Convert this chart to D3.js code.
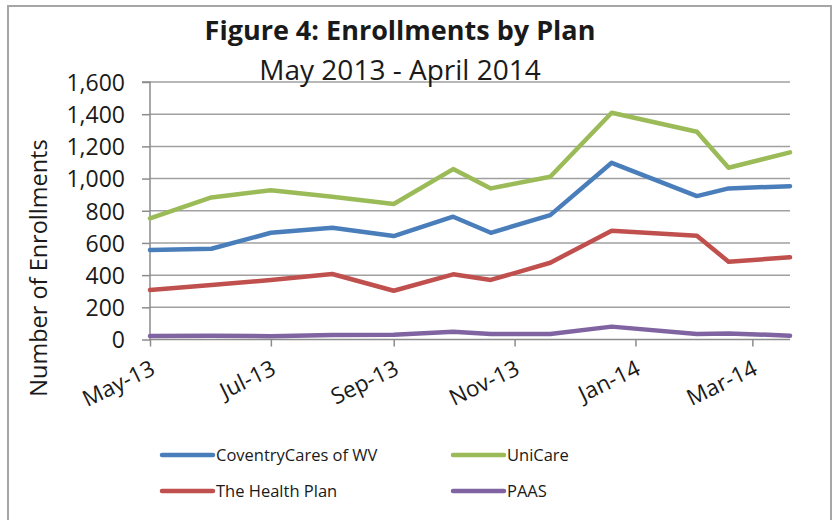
<!DOCTYPE html>
<html>
<head>
<meta charset="utf-8">
<script src="https://cdn.jsdelivr.net/npm/d3@7"></script>
<style>
    body { margin: 0; background: #fff; }
    text { font-family: "Open Sans", sans-serif; fill: #1a1a1a; }
</style>
</head>
<body>
<div id="d3-container"></div>
<script>
// report dates (the excel chart uses a date axis)
const dates = ["2013-05-01", "2013-06-01", "2013-07-01", "2013-08-01", "2013-09-01", "2013-10-01",
    "2013-10-20", "2013-11-19", "2013-12-20", "2014-02-01", "2014-02-17", "2014-03-20"]

const plans = ["CoventryCares of WV", "UniCare", "The Health Plan", "PAAS"]

const coventry = [556, 564, 663, 694, 643, 763, 663, 773, 1098, 891, 939, 953]
const unicare = [753, 883, 928, 887, 842, 1059, 939, 1011, 1409, 1291, 1067, 1163]
const healthPlan = [307, 338, 369, 407, 303, 405, 370, 477, 676, 645, 483, 511]
const paas = [22, 24, 20, 28, 30, 48, 34, 34, 80, 34, 38, 24]

const yTicks = [0, 200, 400, 600, 800, 1000, 1200, 1400, 1600]
const xTicks = ["2013-05-01", "2013-07-01", "2013-09-01", "2013-11-01", "2014-01-01", "2014-03-01"]

const series = [coventry, unicare, healthPlan, paas]
const colors = ["#4a7ebb", "#9bbb59", "#c0504d", "#8064a2"]

const w = 833
const h = 520

const parse = d3.timeParse("%Y-%m-%d")
const fmt = d3.timeFormat("%b-%y")

const svg = d3.select('#d3-container')
    .append('svg')
    .attr('width', w)
    .attr('height', h)

// outer chart frame (bottom edge is cut off in the original)
svg.append('path')
    .attr('d', `M8,${h + 5} L8,6 L831,6 L831,${h + 5}`)
    .attr('fill', 'none')
    .attr('stroke', '#a6a6a6')
    .attr('stroke-width', 2)

// scales
const xScale = d3.scaleTime()
    .domain(d3.extent(dates, parse))
    .range([150, 790])

const yScale = d3.scaleLinear()
    .domain([0, 1600])
    .range([339.5, 82])

// gridlines
svg.append('g')
    .selectAll('line')
    .data(yTicks.slice(1))
    .enter()
    .append('line')
    .attr('x1', 150)
    .attr('x2', 790)
    .attr('y1', d => yScale(d))
    .attr('y2', d => yScale(d))
    .attr('stroke', '#a0a0a0')
    .attr('stroke-width', 1.5)

// axes
const yAxis = d3.axisLeft(yScale)
    .tickValues(yTicks)
    .tickSize(8)
    .tickPadding(17)
    .tickFormat(d3.format(","))

const xAxis = d3.axisBottom(xScale)
    .tickValues(xTicks.map(parse))
    .tickSize(7)
    .tickFormat(fmt)

const gy = svg.append('g')
    .attr('transform', 'translate(150,0)')
    .call(yAxis)
gy.select('.domain').attr('d', `M-8,${yScale(1600)}H0V${yScale(0) + 1}`)
gy.selectAll('line').attr('stroke', '#8c8c8c').attr('stroke-width', 1.5)
gy.select('.domain').attr('stroke', '#8c8c8c').attr('stroke-width', 1.5)
gy.selectAll('text')
    .style('font-size', '23px')
    .attr('fill', '#1a1a1a')
    .attr('dy', '0.36em')

const gx = svg.append('g')
    .attr('transform', `translate(0,${yScale(0)})`)
    .call(xAxis)
gx.select('.domain').attr('d', 'M150,0H790').attr('stroke', '#8c8c8c').attr('stroke-width', 1.5)
gx.selectAll('line').attr('stroke', '#8c8c8c').attr('stroke-width', 1.5)
gx.selectAll('text')
    .style('font-size', '22.5px')
    .attr('fill', '#1a1a1a')
    .attr('text-anchor', 'end')
    .attr('y', 0)
    .attr('dy', 0)
    .attr('transform', 'translate(6,34) rotate(-26)')

// lines
const line = d3.line()
    .x((d, i) => xScale(parse(dates[i])))
    .y(d => yScale(d))

svg.append('g')
    .selectAll('path')
    .data(series)
    .enter()
    .append('path')
    .attr('d', d => line(d))
    .attr('fill', 'none')
    .attr('stroke', (d, i) => colors[i])
    .attr('stroke-width', 4.5)
    .attr('stroke-linejoin', 'round')
    .attr('stroke-linecap', 'round')

// axis title
svg.append('text')
    .attr('transform', 'translate(47,268) rotate(-90)')
    .attr('text-anchor', 'middle')
    .style('font-size', '23.5px')
    .text('Number of Enrollments')

// titles
svg.append('text')
    .attr('x', 400)
    .attr('y', 40)
    .attr('text-anchor', 'middle')
    .style('font-size', '27px')
    .style('font-weight', 'bold')
    .text('Figure 4: Enrollments by Plan')

svg.append('text')
    .attr('x', 400)
    .attr('y', 80)
    .attr('text-anchor', 'middle')
    .style('font-size', '28px')
    .text('May 2013 - April 2014')

// legend
const legend = svg.append('g')
const legX = [162, 453]
const legY = [455, 491]

legend.selectAll('line')
    .data(plans)
    .enter()
    .append('line')
    .attr('x1', (d, i) => legX[i % 2])
    .attr('x2', (d, i) => legX[i % 2] + 51)
    .attr('y1', (d, i) => legY[Math.floor(i / 2)])
    .attr('y2', (d, i) => legY[Math.floor(i / 2)])
    .attr('stroke', (d, i) => colors[i])
    .attr('stroke-width', 4.5)
    .attr('stroke-linecap', 'round')

legend.selectAll('text')
    .data(plans)
    .enter()
    .append('text')
    .attr('x', (d, i) => legX[i % 2] + 54)
    .attr('y', (d, i) => legY[Math.floor(i / 2)])
    .attr('dy', '0.36em')
    .style('font-size', '16.5px')
    .text(d => d)
</script>
</body>
</html>
